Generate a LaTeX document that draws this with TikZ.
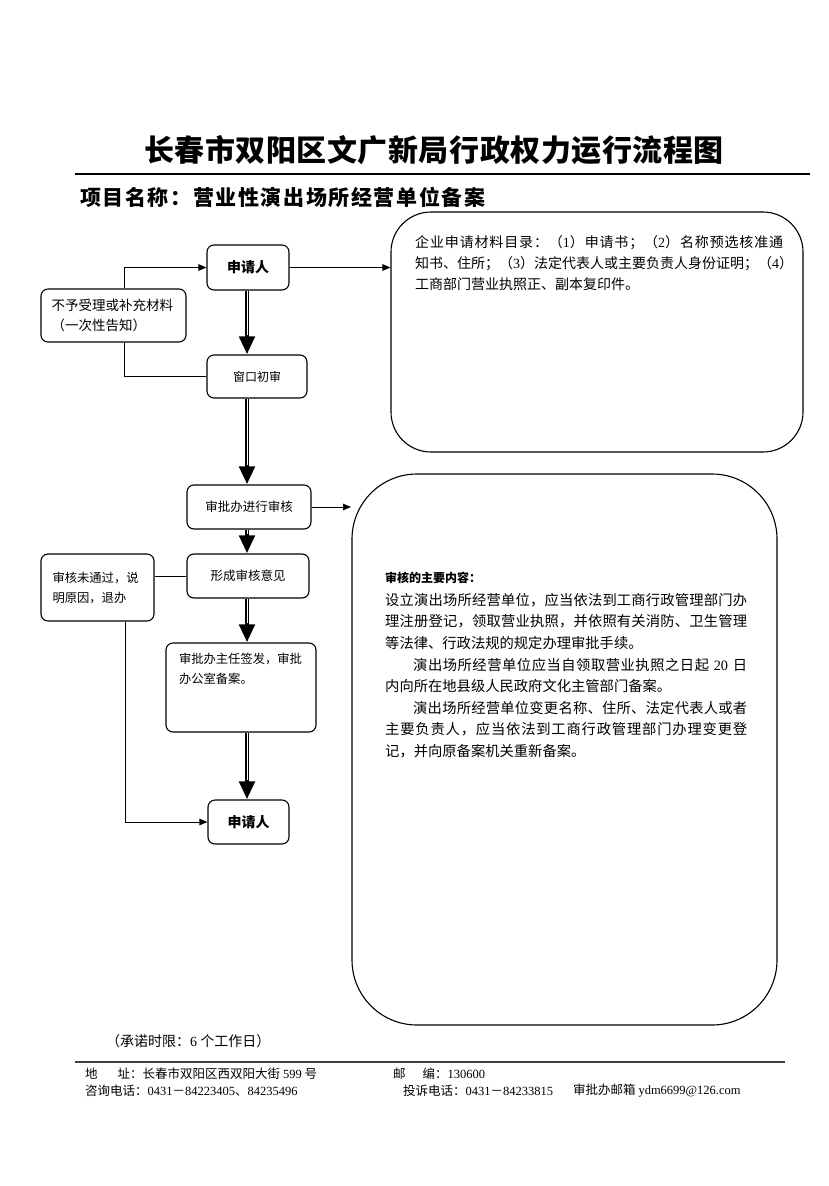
\documentclass[tikz,border=0pt]{standalone}
\usepackage{fontspec}
\setmainfont{Noto Sans CJK SC}
\newfontfamily\latfont{Liberation Serif}
\newcommand\rmd[1]{{\latfont #1}}
\usetikzlibrary{arrows.meta}
% stretchable glue between CJK characters (for justified lines)
\XeTeXinterchartokenstate=1
\newXeTeXintercharclass\cjkcls
\newcount\cjkcc
\cjkcc="3000 \loop \XeTeXcharclass\cjkcc=\cjkcls \advance\cjkcc by 1 \ifnum\cjkcc<"3040 \repeat
\cjkcc="4E00 \loop \XeTeXcharclass\cjkcc=\cjkcls \advance\cjkcc by 1 \ifnum\cjkcc<"A000 \repeat
\cjkcc="FF00 \loop \XeTeXcharclass\cjkcc=\cjkcls \advance\cjkcc by 1 \ifnum\cjkcc<"FFF0 \repeat
\XeTeXinterchartoks\cjkcls\cjkcls={\hskip0pt plus 2pt\relax}
\tikzset{
  box/.style={draw, line width=1.1pt, rounded corners=7pt, inner sep=0pt},
  bigbox/.style={draw, line width=1.1pt, inner sep=0pt},
  thinarr/.style={line width=1pt, -{Triangle[length=8pt,width=6.5pt]}},
  plainline/.style={line width=1pt},
  tarrow/.style={line width=4.6pt, -{Triangle[length=18pt,width=15pt]}},
  tcore/.style={white, line width=0.9pt, shorten >=19pt},
  fA/.style={font=\fontsize{12.3}{20}\selectfont},
}
\newcommand\tarr[2]{%
  \draw[tarrow] (#1.south -| axis) -- (#2.north -| axis);
  \draw[tcore] (#1.south -| axis) -- (#2.north -| axis);}
\begin{document}
\begin{tikzpicture}[x=1pt,y=-1pt]
\useasboundingbox (0,0) rectangle (828,1186);
\fill[white] (0,0) rectangle (828,1186);
\coordinate (axis) at (247,0);

% title
\node[font=\fontsize{30}{36}\selectfont\bfseries, inner sep=0pt] (title) at (434,150)
  {\makebox[580pt][s]{长春市双阳区文广新局行政权力运行流程图}};
\coordinate (ruleL) at (75,174);
\coordinate (ruleR) at (810,174);
\draw[line width=1.2pt] (ruleL) -- (ruleR);
\node[anchor=west, font=\fontsize{21}{24}\selectfont\bfseries, inner sep=0pt] (sub) at (80,197)
  {\makebox[405pt][s]{项目名称：营业性演出场所经营单位备案}};

% big boxes
\node[bigbox, rounded corners=40pt, minimum width=412pt, minimum height=240pt] (big1) at (597,332) {};
\node[bigbox, rounded corners=65pt, minimum width=425pt, minimum height=551pt] (big2) at (564.5,749.5) {};

\node[anchor=north west, inner sep=0pt, text width=368pt, align=left,
      font=\fontsize{14}{21}\selectfont] (text1) at (415,235)
  {\makebox[368pt][s]{企业申请材料目录：（\rmd{1}）申请书；（\rmd{2}）名称预选核准通}\\
   \makebox[368pt][s]{知书、住所；（\rmd{3}）法定代表人或主要负责人身份证明；（\rmd{4}）}\\
   工商部门营业执照正、副本复印件。};

\node[anchor=north west, inner sep=0pt, text width=362pt, align=left,
      font=\fontsize{14.3}{21.6}\selectfont] (text2) at (385,572)
  {{\fontsize{12}{21.6}\selectfont\bfseries 审核的主要内容：}\\[1pt]
   \makebox[362pt][s]{设立演出场所经营单位，应当依法到工商行政管理部门办}\\
   \makebox[362pt][s]{理注册登记，领取营业执照，并依照有关消防、卫生管理}\\
   等法律、行政法规的规定办理审批手续。\\
   \makebox[362pt][s]{\hspace*{28pt}演出场所经营单位应当自领取营业执照之日起 \rmd{20} 日}\\
   \hspace*{0pt}内向所在地县级人民政府文化主管部门备案。\\
   \makebox[362pt][s]{\hspace*{28pt}演出场所经营单位变更名称、住所、法定代表人或者}\\
   \makebox[362pt][s]{主要负责人，应当依法到工商行政管理部门办理变更登}\\
   记，并向原备案机关重新备案。};

% flow boxes
\node[box, minimum width=82pt, minimum height=45pt, font=\fontsize{14}{16}\selectfont\bfseries] (app1) at (248,267.5) {申请人};
\node[box, minimum width=145pt, minimum height=53pt, text width=124pt, align=left,
      font=\fontsize{13.5}{20}\selectfont] (reject) at (113.5,315.5)
  {\mbox{不予受理或补充材料}\\（一次性告知）};
\node[box, minimum width=100pt, minimum height=43pt, font=\fontsize{12}{14}\selectfont] (window) at (257,376.5) {窗口初审};
\node[box, minimum width=124pt, minimum height=44pt, font=\fontsize{12.5}{14}\selectfont] (review) at (249,507) {审批办进行审核};
\node[box, minimum width=122pt, minimum height=44pt, font=\fontsize{12.5}{14}\selectfont] (opinion) at (248,576) {形成审核意见};
\node[box, minimum width=113pt, minimum height=67pt, text width=90pt, align=left, fA] (fail) at (97.5,587.5)
  {\mbox{审核未通过，说}\\明原因，退办};
\node[box, minimum width=150pt, minimum height=89pt, fA] (sign) at (241,687.5)
  {\parbox[c][68pt][t]{124pt}{\raggedright\mbox{审批办主任签发，审批}\\办公室备案。}};
\node[box, minimum width=81pt, minimum height=44pt, font=\fontsize{14}{16}\selectfont\bfseries] (app2) at (248.5,822) {申请人};

% thin connectors
\draw[thinarr] (app1.east) -- (app1.east -| big1.west);
\draw[thinarr] ([xshift=10.5pt]reject.north) |- (app1.west);
\draw[plainline] ([xshift=10.5pt]reject.south) |- (window.west);
\coordinate (revEnd) at (351,507);
\draw[thinarr] (review.east) -- (revEnd);
\draw[plainline] (opinion.west) -- (opinion.west -| fail.east);
\draw[thinarr] ([xshift=27.5pt]fail.south) |- (app2.west);

% thick arrows
\tarr{app1}{window}
\tarr{window}{review}
\tarr{review}{opinion}
\tarr{opinion}{sign}
\tarr{sign}{app2}

% footer
\node[anchor=west, inner sep=0pt, font=\fontsize{14}{16}\selectfont] (limit) at (106,1041)
  {（承诺时限：\rmd{6} 个工作日）};
\coordinate (footL) at (75,1062);
\coordinate (footR) at (785,1062);
\draw[line width=1.3pt, black!75] (footL) -- (footR);
\node[anchor=west, inner sep=0pt, font=\fontsize{12.5}{14}\selectfont] (addr) at (85,1074)
  {地\hspace{20pt}址：长春市双阳区西双阳大街 \rmd{599} 号};
\node[anchor=west, inner sep=0pt, font=\fontsize{12.5}{14}\selectfont] (zip) at (393,1074)
  {邮\hspace{17pt}编：\rmd{130600}};
\node[anchor=west, inner sep=0pt, font=\fontsize{12.5}{14}\selectfont] (tel) at (85,1091)
  {咨询电话：\rmd{0431}－\rmd{84223405}、\rmd{84235496}};
\node[anchor=west, inner sep=0pt, font=\fontsize{12.5}{14}\selectfont] (comp) at (403,1091)
  {投诉电话：\rmd{0431}－\rmd{84233815}};
\node[anchor=west, inner sep=0pt, font=\fontsize{12.5}{14}\selectfont] (mail) at (573,1091)
  {审批办邮箱 \rmd{ydm6699@126.com}};
\end{tikzpicture}
\end{document}
